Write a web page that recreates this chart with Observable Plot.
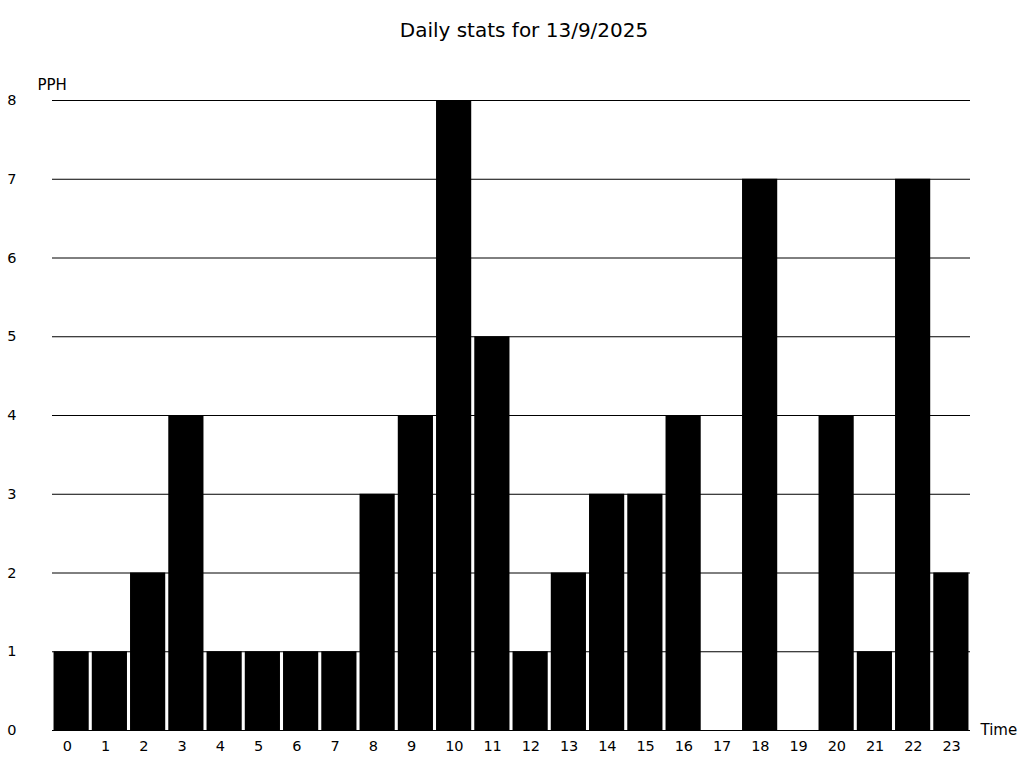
<!DOCTYPE html>
<html>
<head>
<meta charset="utf-8">
<script src="https://cdn.jsdelivr.net/npm/d3@7"></script>
<script src="https://cdn.jsdelivr.net/npm/@observablehq/plot@0.6"></script>
<style>
  html, body { margin: 0; padding: 0; background: white; }
  #wrap { position: relative; width: 1024px; height: 768px; }
  #title { position: absolute; left: 0; top: 18px; width: 1048px; text-align: center;
           font-family: "DejaVu Sans"; font-size: 20px; color: black; line-height: 24px; }
</style>
</head>
<body>
<div id="wrap">
  <div id="title">Daily stats for 13/9/2025</div>
</div>
<script>
const hours = ["0","1","2","3","4","5","6","7","8","9","10","11","12","13","14","15","16","17","18","19","20","21","22","23"];
const pph = [1,1,2,4,1,1,1,1,3,4,8,5,1,2,3,3,4,0,7,0,4,1,7,2];
const yTicks = [0,1,2,3,4,5,6,7,8];
const yLabel = "PPH";
const xLabel = "Time";

const data = hours.map((h, i) => ({hour: h, pph: pph[i]}));

const chart = Plot.plot({
  width: 1024,
  height: 768,
  marginTop: 100,
  marginBottom: 38,
  marginLeft: 52,
  marginRight: 54,
  style: {fontFamily: "DejaVu Sans", fontSize: "14px", color: "black", background: "transparent"},
  x: {domain: hours, paddingInner: 0.08, paddingOuter: 0.04, round: false},
  y: {domain: [0, 8]},
  marks: [
    Plot.ruleY(yTicks, {stroke: "black", strokeWidth: 1}),
    Plot.barY(data, {x: "hour", y: "pph", fill: "black"}),
    Plot.axisX({tickSize: 0, tickPadding: 10, label: null, fontSize: 14.5, textAnchor: "start", dx: -9}),
    Plot.axisY({ticks: yTicks, tickSize: 0, tickPadding: 36, label: null, fontSize: 14.5}),
    Plot.text([yLabel], {frameAnchor: "top-left", dx: -15, dy: -15, textAnchor: "start", lineAnchor: "middle", fontSize: 15}),
    Plot.text([xLabel], {frameAnchor: "bottom-right", dx: 10, textAnchor: "start", lineAnchor: "middle", fontSize: 15})
  ]
});
chart.style.position = "absolute";
chart.style.left = "0";
chart.style.top = "0";
document.getElementById("wrap").appendChild(chart);
</script>
</body>
</html>
